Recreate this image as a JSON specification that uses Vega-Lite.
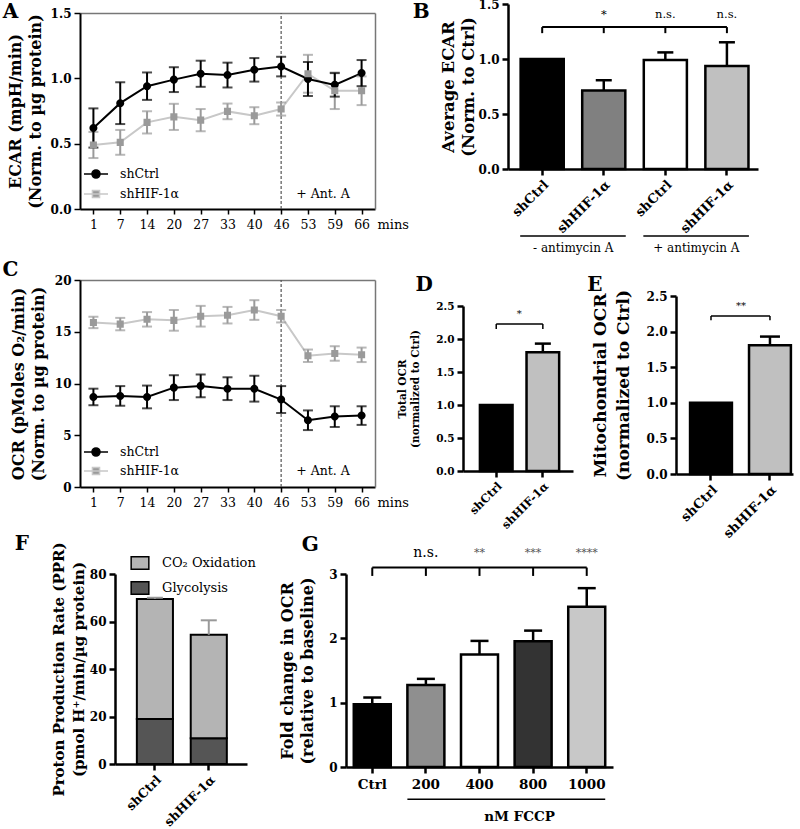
{
"$schema": "https://vega.github.io/schema/vega-lite/v6.json",
"width": 800,
"height": 829,
"autosize": {"type": "none"},
"padding": 0,
"background": "white",
"config": {
 "view": {"stroke": null},
 "font": "DejaVu Serif",
 "axis": {"labelFont": "DejaVu Serif", "titleFont": "DejaVu Serif", "labelColor": "black", "titleColor": "black", "domainColor": "black", "tickColor": "black", "grid": false, "labelFontWeight": "bold", "titleFontWeight": "bold", "domainWidth": 2.5, "tickWidth": 2.5, "tickSize": 6, "labelFontSize": 12, "titleFontSize": 16, "titleLineHeight": 20, "titleBaseline": "middle", "labelPadding": 3},
 "text": {"font": "DejaVu Serif", "color": "black"},
 "legend": {"labelFont": "DejaVu Serif", "labelColor": "black"}
},
"datasets": {
 "ecar": [
  {"t": 1, "series": "shCtrl", "val": 0.62, "err": 0.15},
  {"t": 7, "series": "shCtrl", "val": 0.81, "err": 0.16},
  {"t": 14, "series": "shCtrl", "val": 0.94, "err": 0.105},
  {"t": 20, "series": "shCtrl", "val": 0.99, "err": 0.095},
  {"t": 27, "series": "shCtrl", "val": 1.035, "err": 0.1},
  {"t": 33, "series": "shCtrl", "val": 1.025, "err": 0.095},
  {"t": 40, "series": "shCtrl", "val": 1.065, "err": 0.09},
  {"t": 46, "series": "shCtrl", "val": 1.09, "err": 0.075},
  {"t": 53, "series": "shCtrl", "val": 0.995, "err": 0.13},
  {"t": 59, "series": "shCtrl", "val": 0.95, "err": 0.09},
  {"t": 66, "series": "shCtrl", "val": 1.04, "err": 0.1},
  {"t": 1, "series": "shHIF-1α", "val": 0.49, "err": 0.1},
  {"t": 7, "series": "shHIF-1α", "val": 0.51, "err": 0.095},
  {"t": 14, "series": "shHIF-1α", "val": 0.663, "err": 0.085},
  {"t": 20, "series": "shHIF-1α", "val": 0.705, "err": 0.1},
  {"t": 27, "series": "shHIF-1α", "val": 0.68, "err": 0.085},
  {"t": 33, "series": "shHIF-1α", "val": 0.747, "err": 0.06},
  {"t": 40, "series": "shHIF-1α", "val": 0.714, "err": 0.065},
  {"t": 46, "series": "shHIF-1α", "val": 0.765, "err": 0.05},
  {"t": 53, "series": "shHIF-1α", "val": 1.035, "err": 0.145},
  {"t": 59, "series": "shHIF-1α", "val": 0.905, "err": 0.14},
  {"t": 66, "series": "shHIF-1α", "val": 0.905, "err": 0.11}
 ],
 "ocr": [
  {"t": 1, "series": "shCtrl", "val": 8.7, "err": 0.8},
  {"t": 7, "series": "shCtrl", "val": 8.8, "err": 0.95},
  {"t": 14, "series": "shCtrl", "val": 8.7, "err": 1.1},
  {"t": 20, "series": "shCtrl", "val": 9.6, "err": 1.2},
  {"t": 27, "series": "shCtrl", "val": 9.77, "err": 1.1},
  {"t": 33, "series": "shCtrl", "val": 9.5, "err": 1.1},
  {"t": 40, "series": "shCtrl", "val": 9.5, "err": 1.25},
  {"t": 46, "series": "shCtrl", "val": 8.45, "err": 1.3},
  {"t": 53, "series": "shCtrl", "val": 6.45, "err": 0.95},
  {"t": 59, "series": "shCtrl", "val": 6.8, "err": 1.0},
  {"t": 66, "series": "shCtrl", "val": 6.9, "err": 0.9},
  {"t": 1, "series": "shHIF-1α", "val": 15.9, "err": 0.55},
  {"t": 7, "series": "shHIF-1α", "val": 15.74, "err": 0.6},
  {"t": 14, "series": "shHIF-1α", "val": 16.2, "err": 0.7},
  {"t": 20, "series": "shHIF-1α", "val": 16.1, "err": 1.0},
  {"t": 27, "series": "shHIF-1α", "val": 16.5, "err": 1.0},
  {"t": 33, "series": "shHIF-1α", "val": 16.6, "err": 0.8},
  {"t": 40, "series": "shHIF-1α", "val": 17.1, "err": 0.95},
  {"t": 46, "series": "shHIF-1α", "val": 16.5, "err": 0.6},
  {"t": 53, "series": "shHIF-1α", "val": 12.68, "err": 0.6},
  {"t": 59, "series": "shHIF-1α", "val": 12.9, "err": 0.7},
  {"t": 66, "series": "shHIF-1α", "val": 12.77, "err": 0.7}
 ],
 "b": [
  {"k": "shCtrl", "v": 1.0, "sig": ""},
  {"k": "shHIF-1α", "v": 0.714, "hi": 0.807, "sig": "*"},
  {"k": "shCtrl ", "v": 0.99, "hi": 1.06, "sig": "n.s."},
  {"k": "shHIF-1α ", "v": 0.937, "hi": 1.152, "sig": "n.s."}
 ],
 "d": [
  {"k": "shCtrl", "v": 1.0},
  {"k": "shHIF-1α", "v": 1.8, "hi": 1.93}
 ],
 "e": [
  {"k": "shCtrl", "v": 1.0},
  {"k": "shHIF-1α", "v": 1.81, "hi": 1.93}
 ],
 "f": [
  {"k": "shCtrl", "comp": "Glycolysis", "v": 18.9},
  {"k": "shCtrl", "comp": "CO₂ Oxidation", "v": 50.6},
  {"k": "shHIF-1α", "comp": "Glycolysis", "v": 10.8},
  {"k": "shHIF-1α", "comp": "CO₂ Oxidation", "v": 43.6}
 ],
 "fe": [
  {"k": "shCtrl", "tot": 69.5, "hi": 70.0},
  {"k": "shHIF-1α", "tot": 54.4, "hi": 60.5}
 ],
 "g": [
  {"k": "Ctrl", "v": 0.975, "hi": 1.08, "sig": ""},
  {"k": "200", "v": 1.275, "hi": 1.37, "sig": "n.s."},
  {"k": "400", "v": 1.75, "hi": 1.96, "sig": "**"},
  {"k": "800", "v": 1.955, "hi": 2.12, "sig": "***"},
  {"k": "1000", "v": 2.49, "hi": 2.78, "sig": "****"}
 ]
},
"resolve": {
 "scale": {"x": "independent", "y": "independent", "color": "independent", "fill": "independent", "stroke": "independent", "shape": "independent"},
 "axis": {"x": "independent", "y": "independent"},
 "legend": {"color": "independent", "fill": "independent", "stroke": "independent", "shape": "independent"}
},
"layer": [
 {"data": {"values": [{}]}, "mark": {"type": "point", "opacity": 0},
  "encoding": {
   "x": {"datum": 0, "type": "quantitative", "scale": {"domain": [0, 1], "range": [80, 375], "nice": false}, "axis": {"orient": "top", "offset": -13, "labels": false, "ticks": false, "title": null, "domainColor": "#777", "domainWidth": 1.5}},
   "y": {"datum": 0, "type": "quantitative", "scale": {"domain": [0, 1], "range": [209, 13], "nice": false}, "axis": {"orient": "right", "offset": -425, "labels": false, "ticks": false, "title": null, "domainColor": "#777", "domainWidth": 1.5}}
  }},
 {"data": {"values": [{}]}, "mark": {"type": "point", "opacity": 0},
  "encoding": {
   "x": {"datum": 0, "type": "quantitative", "scale": {"domain": [0, 1], "range": [80, 375], "nice": false}, "axis": {"orient": "top", "offset": -280, "labels": false, "ticks": false, "title": null, "domainColor": "#777", "domainWidth": 1.5}},
   "y": {"datum": 0, "type": "quantitative", "scale": {"domain": [0, 1], "range": [487, 280], "nice": false}, "axis": {"orient": "right", "offset": -425, "labels": false, "ticks": false, "title": null, "domainColor": "#777", "domainWidth": 1.5}}
  }},

 {"data": {"name": "ecar"},
  "encoding": {
   "x": {"field": "t", "type": "ordinal", "scale": {"type": "point", "padding": 0.5, "range": [80, 375]}, "axis": {"orient": "bottom", "offset": -620, "title": "mins", "titleAngle": 0, "titleX": 377, "titleY": 15, "titleAlign": "left", "titleFontWeight": "normal", "titleFontSize": 13, "labelAngle": 0, "labelFontWeight": "normal", "labelFontSize": 12.5, "labelPadding": 4, "tickSize": 5, "tickWidth": 1.5, "domainWidth": 2}}
  },
  "layer": [
   {"data": {"values": [{}]}, "mark": {"type": "rule", "strokeDash": [3, 2], "color": "#555", "strokeWidth": 1.2}, "encoding": {"x": {"datum": 46, "type": "ordinal"}, "y": {"datum": 0, "type": "quantitative", "scale": {"domain": [0, 1.5], "range": [209, 13], "nice": false}, "axis": {"orient": "left", "offset": -80, "values": [0, 0.5, 1, 1.5], "format": ".1f", "titleX": -65, "domainWidth": 2, "tickWidth": 1.5}, "title": ["ECAR (mpH/min)", "(Norm. to µg protein)"]}, "y2": {"datum": 1.5}}},
   {"transform": [{"filter": "datum.series === 'shHIF-1α'"}], "mark": {"type": "line", "color": "#c8c8c8", "strokeWidth": 2}, "encoding": {"y": {"field": "val", "type": "quantitative", "title": ["ECAR (mpH/min)", "(Norm. to µg protein)"]}}},
   {"transform": [{"filter": "datum.series === 'shCtrl'"}], "mark": {"type": "line", "color": "black", "strokeWidth": 2}, "encoding": {"y": {"field": "val", "type": "quantitative", "title": ["ECAR (mpH/min)", "(Norm. to µg protein)"]}}},
   {"transform": [{"filter": "datum.series === 'shHIF-1α'"}], "mark": {"type": "errorbar", "color": "#9a9a9a", "ticks": {"size": 10, "thickness": 2}, "thickness": 2}, "encoding": {"y": {"field": "val", "type": "quantitative", "title": ["ECAR (mpH/min)", "(Norm. to µg protein)"]}, "yError": {"field": "err"}}},
   {"transform": [{"filter": "datum.series === 'shCtrl'"}], "mark": {"type": "errorbar", "color": "black", "ticks": {"size": 10, "thickness": 2}, "thickness": 2}, "encoding": {"y": {"field": "val", "type": "quantitative", "title": ["ECAR (mpH/min)", "(Norm. to µg protein)"]}, "yError": {"field": "err"}}},
   {"mark": {"type": "point", "filled": true, "opacity": 1, "size": 200, "strokeWidth": 0},
    "encoding": {
     "y": {"field": "val", "type": "quantitative", "title": ["ECAR (mpH/min)", "(Norm. to µg protein)"]},
     "fill": {"field": "series", "type": "nominal", "scale": {"domain": ["shCtrl", "shHIF-1α"], "range": ["black", "#9a9a9a"]}, "legend": {"title": null, "orient": "none", "legendX": 88, "legendY": 166, "padding": 0, "symbolSize": 200, "labelFontSize": 12.5, "labelOffset": 16, "rowPadding": 4, "encode": {"symbols": {"strokeWidth": {"value": 2}, "opacity": {"value": 1}}}}},
     "stroke": {"field": "series", "type": "nominal", "scale": {"domain": ["shCtrl", "shHIF-1α"], "range": ["black", "#c8c8c8"]}, "legend": {"title": null, "orient": "none", "legendX": 88, "legendY": 166, "padding": 0, "symbolSize": 200, "labelFontSize": 12.5, "labelOffset": 16, "rowPadding": 4, "encode": {"symbols": {"strokeWidth": {"value": 2}, "opacity": {"value": 1}}}}},
     "shape": {"field": "series", "type": "nominal", "scale": {"domain": ["shCtrl", "shHIF-1α"], "range": ["M-1.7,0H1.7M-0.57,0A0.57,0.57,0,1,1,0.57,0A0.57,0.57,0,1,1,-0.57,0Z", "M-1.7,0H1.7M-0.5,-0.5H0.5V0.5H-0.5Z"]}, "legend": {"title": null, "orient": "none", "legendX": 88, "legendY": 166, "padding": 0, "symbolSize": 200, "labelFontSize": 12.5, "labelOffset": 16, "rowPadding": 4, "encode": {"symbols": {"strokeWidth": {"value": 2}, "opacity": {"value": 1}}}}}
    }},
   {"data": {"values": [{}]}, "mark": {"type": "text", "fontSize": 12.5, "dx": 15}, "encoding": {"x": {"datum": 53, "type": "ordinal"}, "y": {"datum": 0.115, "type": "quantitative"}, "text": {"value": "+ Ant. A"}}},
   {"data": {"values": [{}]}, "mark": {"type": "text", "fontSize": 20, "fontWeight": "bold", "dx": -83, "dy": -1}, "encoding": {"x": {"datum": 1, "type": "ordinal"}, "y": {"datum": 1.5, "type": "quantitative"}, "text": {"value": "A"}}}
  ]},

 {"data": {"name": "b"},
  "encoding": {"x": {"field": "k", "type": "nominal", "sort": null, "scale": {"range": [508, 758], "paddingInner": 0.3, "paddingOuter": 0.18, "align": 0.57}, "axis": {"orient": "bottom", "offset": -660, "title": null, "labelAngle": -45, "labelFontSize": 13}}},
  "layer": [
   {"mark": {"type": "bar", "stroke": "black", "strokeWidth": 2.5}, "encoding": {
     "y": {"field": "v", "type": "quantitative", "title": ["Average ECAR", "(Norm. to Ctrl)"], "scale": {"domain": [0, 1.5], "range": [169, 4], "nice": false}, "axis": {"orient": "left", "offset": -508, "values": [0, 0.5, 1, 1.5], "format": ".1f", "titleX": -60, "titleFontSize": 16.5}},
     "fill": {"field": "k", "type": "nominal", "sort": null, "scale": {"range": ["black", "#808080", "white", "#c0c0c0"]}, "legend": null}}},
   {"transform": [{"filter": "isValid(datum.hi)"}], "mark": {"type": "rule", "strokeWidth": 2.5, "color": "black"}, "encoding": {"y": {"field": "v", "type": "quantitative"}, "y2": {"field": "hi"}}},
   {"transform": [{"filter": "isValid(datum.hi)"}], "mark": {"type": "tick", "thickness": 2.5, "size": 16, "color": "black", "opacity": 1}, "encoding": {"y": {"field": "hi", "type": "quantitative"}}},
   {"data": {"values": [{}]}, "mark": {"type": "rule", "strokeWidth": 2, "color": "black"}, "encoding": {"x": {"datum": "shCtrl"}, "x2": {"datum": "shHIF-1α "}, "y": {"datum": 1.29}}},
   {"mark": {"type": "rule", "strokeWidth": 2, "color": "black"}, "encoding": {"y": {"datum": 1.235}, "y2": {"datum": 1.29}}},
   {"mark": {"type": "text", "fontSize": 11.5}, "encoding": {"y": {"datum": 1.4}, "text": {"field": "sig"}}},
   {"data": {"values": [{}]}, "mark": {"type": "rule", "strokeWidth": 1.5, "color": "black", "xOffset": -22, "x2Offset": 22}, "encoding": {"x": {"datum": "shCtrl"}, "x2": {"datum": "shHIF-1α"}, "y": {"datum": -0.61}}},
   {"data": {"values": [{}]}, "mark": {"type": "rule", "strokeWidth": 1.5, "color": "black", "xOffset": -22, "x2Offset": 22}, "encoding": {"x": {"datum": "shCtrl "}, "x2": {"datum": "shHIF-1α "}, "y": {"datum": -0.61}}},
   {"data": {"values": [{}]}, "mark": {"type": "text", "fontSize": 12, "dx": 31}, "encoding": {"x": {"datum": "shCtrl"}, "y": {"datum": -0.72}, "text": {"value": "- antimycin A"}}},
   {"data": {"values": [{}]}, "mark": {"type": "text", "fontSize": 12, "dx": 31}, "encoding": {"x": {"datum": "shCtrl "}, "y": {"datum": -0.72}, "text": {"value": "+ antimycin A"}}},
   {"data": {"values": [{}]}, "mark": {"type": "text", "fontSize": 20, "fontWeight": "bold", "dx": -121, "dy": 8}, "encoding": {"x": {"datum": "shCtrl"}, "y": {"datum": 1.5}, "text": {"value": "B"}}}
  ]},

 {"data": {"name": "ocr"},
  "encoding": {
   "x": {"field": "t", "type": "ordinal", "scale": {"type": "point", "padding": 0.5, "range": [80, 375]}, "axis": {"orient": "bottom", "offset": -342, "title": "mins", "titleAngle": 0, "titleX": 377, "titleY": 15, "titleAlign": "left", "titleFontWeight": "normal", "titleFontSize": 13, "labelAngle": 0, "labelFontWeight": "normal", "labelFontSize": 12.5, "labelPadding": 4, "tickSize": 5, "tickWidth": 1.5, "domainWidth": 2}}
  },
  "layer": [
   {"data": {"values": [{}]}, "mark": {"type": "rule", "strokeDash": [3, 2], "color": "#555", "strokeWidth": 1.2}, "encoding": {"x": {"datum": 46, "type": "ordinal"}, "y": {"datum": 0, "type": "quantitative", "scale": {"domain": [0, 20], "range": [487, 280], "nice": false}, "axis": {"orient": "left", "offset": -80, "values": [0, 5, 10, 15, 20], "format": "d", "titleX": -62, "domainWidth": 2, "tickWidth": 1.5}, "title": ["OCR (pMoles O₂/min)", "(Norm. to µg protein)"]}, "y2": {"datum": 20}}},
   {"transform": [{"filter": "datum.series === 'shHIF-1α'"}], "mark": {"type": "line", "color": "#c8c8c8", "strokeWidth": 2}, "encoding": {"y": {"field": "val", "type": "quantitative", "title": ["OCR (pMoles O₂/min)", "(Norm. to µg protein)"]}}},
   {"transform": [{"filter": "datum.series === 'shCtrl'"}], "mark": {"type": "line", "color": "black", "strokeWidth": 2}, "encoding": {"y": {"field": "val", "type": "quantitative", "title": ["OCR (pMoles O₂/min)", "(Norm. to µg protein)"]}}},
   {"transform": [{"filter": "datum.series === 'shHIF-1α'"}], "mark": {"type": "errorbar", "color": "#9a9a9a", "ticks": {"size": 10, "thickness": 2}, "thickness": 2}, "encoding": {"y": {"field": "val", "type": "quantitative", "title": ["OCR (pMoles O₂/min)", "(Norm. to µg protein)"]}, "yError": {"field": "err"}}},
   {"transform": [{"filter": "datum.series === 'shCtrl'"}], "mark": {"type": "errorbar", "color": "black", "ticks": {"size": 10, "thickness": 2}, "thickness": 2}, "encoding": {"y": {"field": "val", "type": "quantitative", "title": ["OCR (pMoles O₂/min)", "(Norm. to µg protein)"]}, "yError": {"field": "err"}}},
   {"mark": {"type": "point", "filled": true, "opacity": 1, "size": 200, "strokeWidth": 0},
    "encoding": {
     "y": {"field": "val", "type": "quantitative", "title": ["OCR (pMoles O₂/min)", "(Norm. to µg protein)"]},
     "fill": {"field": "series", "type": "nominal", "scale": {"domain": ["shCtrl", "shHIF-1α"], "range": ["black", "#9a9a9a"]}, "legend": {"title": null, "orient": "none", "legendX": 88, "legendY": 444, "padding": 0, "symbolSize": 200, "labelFontSize": 12.5, "labelOffset": 16, "rowPadding": 3, "encode": {"symbols": {"strokeWidth": {"value": 2}, "opacity": {"value": 1}}}}},
     "stroke": {"field": "series", "type": "nominal", "scale": {"domain": ["shCtrl", "shHIF-1α"], "range": ["black", "#c8c8c8"]}, "legend": {"title": null, "orient": "none", "legendX": 88, "legendY": 444, "padding": 0, "symbolSize": 200, "labelFontSize": 12.5, "labelOffset": 16, "rowPadding": 3, "encode": {"symbols": {"strokeWidth": {"value": 2}, "opacity": {"value": 1}}}}},
     "shape": {"field": "series", "type": "nominal", "scale": {"domain": ["shCtrl", "shHIF-1α"], "range": ["M-1.7,0H1.7M-0.57,0A0.57,0.57,0,1,1,0.57,0A0.57,0.57,0,1,1,-0.57,0Z", "M-1.7,0H1.7M-0.5,-0.5H0.5V0.5H-0.5Z"]}, "legend": {"title": null, "orient": "none", "legendX": 88, "legendY": 444, "padding": 0, "symbolSize": 200, "labelFontSize": 12.5, "labelOffset": 16, "rowPadding": 3, "encode": {"symbols": {"strokeWidth": {"value": 2}, "opacity": {"value": 1}}}}}
    }},
   {"data": {"values": [{}]}, "mark": {"type": "text", "fontSize": 12.5, "dx": 15}, "encoding": {"x": {"datum": 53, "type": "ordinal"}, "y": {"datum": 1.55, "type": "quantitative"}, "text": {"value": "+ Ant. A"}}},
   {"data": {"values": [{}]}, "mark": {"type": "text", "fontSize": 20, "fontWeight": "bold", "dx": -83, "dy": -10}, "encoding": {"x": {"datum": 1, "type": "ordinal"}, "y": {"datum": 20, "type": "quantitative"}, "text": {"value": "C"}}}
  ]},

 {"data": {"name": "d"},
  "encoding": {"x": {"field": "k", "type": "nominal", "sort": null, "scale": {"range": [463, 573], "paddingInner": 0.3, "paddingOuter": 0.33, "align": 0.55}, "axis": {"orient": "bottom", "offset": -358, "title": null, "labelAngle": -45, "labelFontSize": 11.5}}},
  "layer": [
   {"mark": {"type": "bar", "stroke": "black", "strokeWidth": 2.5}, "encoding": {
     "y": {"field": "v", "type": "quantitative", "title": ["Total OCR", "(normalized to Ctrl)"], "scale": {"domain": [0, 2.5], "range": [471, 306], "nice": false}, "axis": {"orient": "left", "offset": -463, "values": [0, 0.5, 1, 1.5, 2, 2.5], "format": ".1f", "labelFontSize": 10.5, "titleFontSize": 10.5, "titleLineHeight": 13, "titleX": -61}},
     "fill": {"field": "k", "type": "nominal", "sort": null, "scale": {"range": ["black", "#c0c0c0"]}, "legend": null}}},
   {"transform": [{"filter": "isValid(datum.hi)"}], "mark": {"type": "rule", "strokeWidth": 2.5, "color": "black"}, "encoding": {"y": {"field": "v", "type": "quantitative"}, "y2": {"field": "hi"}}},
   {"transform": [{"filter": "isValid(datum.hi)"}], "mark": {"type": "tick", "thickness": 2.5, "size": 16, "color": "black", "opacity": 1}, "encoding": {"y": {"field": "hi", "type": "quantitative"}}},
   {"data": {"values": [{}]}, "mark": {"type": "rule", "strokeWidth": 1.5, "color": "black"}, "encoding": {"x": {"datum": "shCtrl"}, "x2": {"datum": "shHIF-1α"}, "y": {"datum": 2.227}}},
   {"mark": {"type": "rule", "strokeWidth": 1.5, "color": "black"}, "encoding": {"y": {"datum": 2.15}, "y2": {"datum": 2.227}}},
   {"data": {"values": [{}]}, "mark": {"type": "text", "fontSize": 10, "dx": 23}, "encoding": {"x": {"datum": "shCtrl"}, "y": {"datum": 2.38}, "text": {"value": "*"}}},
   {"data": {"values": [{}]}, "mark": {"type": "text", "fontSize": 20, "fontWeight": "bold", "dx": -72, "dy": -21}, "encoding": {"x": {"datum": "shCtrl"}, "y": {"datum": 2.5}, "text": {"value": "D"}}}
  ]},

 {"data": {"name": "e"},
  "encoding": {"x": {"field": "k", "type": "nominal", "sort": null, "scale": {"range": [676, 793], "paddingInner": 0.29, "paddingOuter": 0.137, "align": 0.87}, "axis": {"orient": "bottom", "offset": -355, "title": null, "labelAngle": -45, "labelFontSize": 13}}},
  "layer": [
   {"mark": {"type": "bar", "stroke": "black", "strokeWidth": 2.5}, "encoding": {
     "y": {"field": "v", "type": "quantitative", "title": ["Mitochondrial OCR", "(normalized to Ctrl)"], "scale": {"domain": [0, 2.5], "range": [474, 296], "nice": false}, "axis": {"orient": "left", "offset": -676, "values": [0, 0.5, 1, 1.5, 2, 2.5], "format": ".1f", "titleX": -76, "titleFontSize": 17, "titleLineHeight": 23}},
     "fill": {"field": "k", "type": "nominal", "sort": null, "scale": {"range": ["black", "#c0c0c0"]}, "legend": null}}},
   {"transform": [{"filter": "isValid(datum.hi)"}], "mark": {"type": "rule", "strokeWidth": 2.5, "color": "black"}, "encoding": {"y": {"field": "v", "type": "quantitative"}, "y2": {"field": "hi"}}},
   {"transform": [{"filter": "isValid(datum.hi)"}], "mark": {"type": "tick", "thickness": 2.5, "size": 20, "color": "black", "opacity": 1}, "encoding": {"y": {"field": "hi", "type": "quantitative"}}},
   {"data": {"values": [{}]}, "mark": {"type": "rule", "strokeWidth": 1.5, "color": "black"}, "encoding": {"x": {"datum": "shCtrl"}, "x2": {"datum": "shHIF-1α"}, "y": {"datum": 2.22}}},
   {"mark": {"type": "rule", "strokeWidth": 1.5, "color": "black"}, "encoding": {"y": {"datum": 2.16}, "y2": {"datum": 2.22}}},
   {"data": {"values": [{}]}, "mark": {"type": "text", "fontSize": 10, "dx": 30}, "encoding": {"x": {"datum": "shCtrl"}, "y": {"datum": 2.36}, "text": {"value": "**"}}},
   {"data": {"values": [{}]}, "mark": {"type": "text", "fontSize": 20, "fontWeight": "bold", "dx": -116, "dy": -11}, "encoding": {"x": {"datum": "shCtrl"}, "y": {"datum": 2.5}, "text": {"value": "E"}}}
  ]},

 {"encoding": {"x": {"field": "k", "type": "nominal", "sort": null, "scale": {"range": [115, 247], "paddingInner": 0.33, "paddingOuter": 0.39, "align": 0.52}, "axis": {"orient": "bottom", "offset": -65, "title": null, "labelAngle": -45, "labelFontSize": 12.5}}},
  "layer": [
   {"data": {"name": "f"}, "mark": {"type": "bar", "stroke": "black", "strokeWidth": 2}, "encoding": {
     "y": {"field": "v", "type": "quantitative", "stack": "zero", "title": ["Proton Production Rate (PPR)", "(pmol H⁺/min/µg protein)"], "scale": {"domain": [0, 80], "range": [764, 574], "nice": false}, "axis": {"orient": "left", "offset": -115, "values": [0, 20, 40, 60, 80], "format": "d", "titleFontSize": 15, "titleX": -57}},
     "color": {"field": "comp", "type": "nominal", "scale": {"domain": ["CO₂ Oxidation", "Glycolysis"], "range": ["#b4b4b4", "#555555"]}, "legend": {"title": null, "orient": "none", "legendX": 132, "legendY": 555, "padding": 0, "symbolType": "M-1.25,-0.9H1.25V0.9H-1.25Z", "symbolSize": 200, "symbolStrokeColor": "black", "symbolStrokeWidth": 1.5, "symbolOpacity": 1, "labelFontSize": 13, "labelOffset": 14, "rowPadding": 5}},
     "order": {"field": "comp", "sort": "descending"}}},
   {"data": {"name": "fe"}, "mark": {"type": "rule", "strokeWidth": 2, "color": "#999"}, "encoding": {"y": {"field": "tot", "type": "quantitative"}, "y2": {"field": "hi"}}},
   {"data": {"name": "fe"}, "mark": {"type": "tick", "thickness": 2, "size": 16, "color": "#999", "opacity": 1}, "encoding": {"y": {"field": "hi", "type": "quantitative"}}},
   {"data": {"values": [{}]}, "mark": {"type": "text", "fontSize": 20, "fontWeight": "bold", "dx": -133, "dy": -30}, "encoding": {"x": {"datum": "shCtrl"}, "y": {"datum": 80}, "text": {"value": "F"}}}
  ]},

 {"data": {"name": "g"},
  "encoding": {"x": {"field": "k", "type": "nominal", "sort": null, "scale": {"range": [346, 613], "paddingInner": 0.31, "paddingOuter": 0.145, "align": 0.5}, "axis": {"orient": "bottom", "offset": -62, "title": null, "labelAngle": 0, "labelFontSize": 13.5, "labelPadding": 4}}},
  "layer": [
   {"mark": {"type": "bar", "stroke": "black", "strokeWidth": 2.5}, "encoding": {
     "y": {"field": "v", "type": "quantitative", "title": ["Fold change in OCR", "(relative to baseline)"], "scale": {"domain": [0, 3], "range": [767, 574], "nice": false}, "axis": {"orient": "left", "offset": -346, "values": [0, 1, 2, 3], "format": "d", "titleFontSize": 16, "titleX": -59}},
     "fill": {"field": "k", "type": "nominal", "sort": null, "scale": {"range": ["black", "#8f8f8f", "white", "#333333", "#c8c8c8"]}, "legend": null}}},
   {"mark": {"type": "rule", "strokeWidth": 2.5, "color": "black"}, "encoding": {"y": {"field": "v", "type": "quantitative"}, "y2": {"field": "hi"}}},
   {"mark": {"type": "tick", "thickness": 2.5, "size": 18, "color": "black", "opacity": 1}, "encoding": {"y": {"field": "hi", "type": "quantitative"}}},
   {"data": {"values": [{}]}, "mark": {"type": "rule", "strokeWidth": 2, "color": "black"}, "encoding": {"x": {"datum": "Ctrl"}, "x2": {"datum": "1000"}, "y": {"datum": 3.1}}},
   {"mark": {"type": "rule", "strokeWidth": 2, "color": "black"}, "encoding": {"y": {"datum": 2.97}, "y2": {"datum": 3.1}}},
   {"transform": [{"filter": "datum.sig === 'n.s.'"}], "mark": {"type": "text", "fontSize": 14}, "encoding": {"y": {"datum": 3.33}, "text": {"field": "sig"}}},
   {"transform": [{"filter": "datum.sig !== 'n.s.'"}], "mark": {"type": "text", "fontSize": 11, "color": "#555"}, "encoding": {"y": {"datum": 3.33}, "text": {"field": "sig"}}},
   {"data": {"values": [{}]}, "mark": {"type": "rule", "strokeWidth": 1.5, "color": "black", "xOffset": -18.5, "x2Offset": 18.5}, "encoding": {"x": {"datum": "200"}, "x2": {"datum": "1000"}, "y": {"datum": -0.5}}},
   {"data": {"values": [{}]}, "mark": {"type": "text", "fontSize": 13.5, "fontWeight": "bold", "dx": 40}, "encoding": {"x": {"datum": "400"}, "y": {"datum": -0.78}, "text": {"value": "nM FCCP"}}},
   {"data": {"values": [{}]}, "mark": {"type": "text", "fontSize": 20, "fontWeight": "bold", "dx": -62, "dy": -29}, "encoding": {"x": {"datum": "Ctrl"}, "y": {"datum": 3}, "text": {"value": "G"}}}
  ]}
]
}
